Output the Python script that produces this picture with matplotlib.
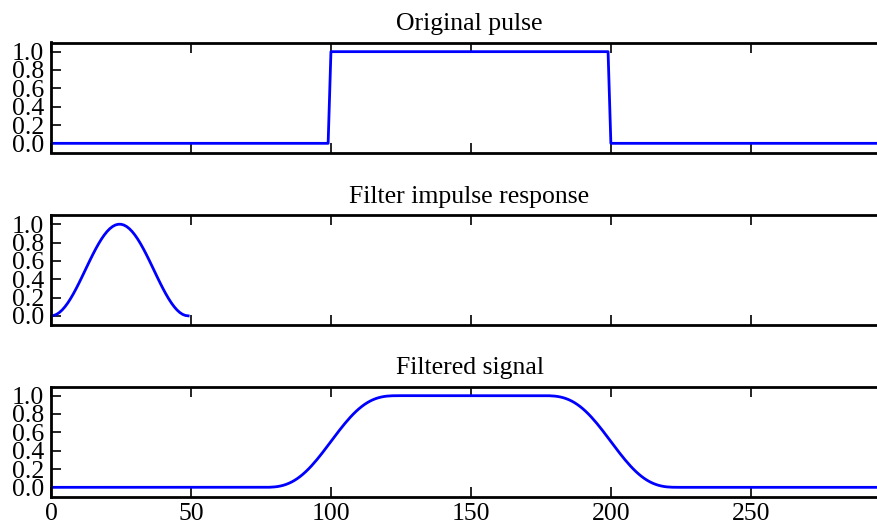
import numpy as np
import matplotlib
matplotlib.use("Agg")
import matplotlib.pyplot as plt

# ---- data ----
pulse = [0.0] * 100 + [1.0] * 100 + [0.0] * 100
window = [0.0, 0.0041, 0.0163, 0.0365, 0.0643, 0.0993, 0.1408, 0.1883, 0.2408, 0.2976,
          0.3577, 0.4202, 0.4840, 0.5480, 0.6113, 0.6727, 0.7313, 0.7861, 0.8362, 0.8807,
          0.9191, 0.9505, 0.9745, 0.9908, 0.9990, 0.9990, 0.9908, 0.9745, 0.9505, 0.9191,
          0.8807, 0.8362, 0.7861, 0.7313, 0.6727, 0.6113, 0.5480, 0.4840, 0.4202, 0.3577,
          0.2976, 0.2408, 0.1883, 0.1408, 0.0993, 0.0643, 0.0365, 0.0163, 0.0041, 0.0]
titles = ["Original pulse", "Filter impulse response", "Filtered signal"]
xticks = [0, 50, 100, 150, 200, 250]
yticks = [0.0, 0.2, 0.4, 0.6, 0.8, 1.0]

filtered = np.convolve(pulse, window, mode="same") / np.sum(window)
series = [pulse, window, filtered]

plt.rcParams["font.family"] = ["Liberation Serif", "DejaVu Serif"]
plt.rcParams["font.size"] = 18.5

fig = plt.figure(figsize=(8.77, 5.29), dpi=100)
left = 51 / 877
width = 837 / 877
height = 110 / 529
bottoms = [1 - 152.5 / 529, 1 - 325 / 529, 1 - 496.5 / 529]

axes = []
for i, b in enumerate(bottoms):
    ax = fig.add_axes([left, b, width, height], sharex=axes[0] if axes else None)
    axes.append(ax)
    ax.plot(np.arange(len(series[i])), series[i], color="#0000ff", linewidth=2)
    ax.set_title(titles[i], fontsize=18.5, pad=9)
    ax.set_xlim(0, 299)
    ax.set_ylim(-0.1, 1.1)
    ax.set_yticks(yticks)
    ax.set_yticklabels([f"{v:.1f}" for v in yticks])
    ax.set_xticks(xticks)
    ax.tick_params(direction="in", top=True, right=True, length=7, width=1.2,
                   labelsize=18.5, pad=5)
    for s in ax.spines.values():
        s.set_linewidth(2)
    if i < 2:
        ax.tick_params(labelbottom=False)

fig.savefig("out.png", dpi=100)
